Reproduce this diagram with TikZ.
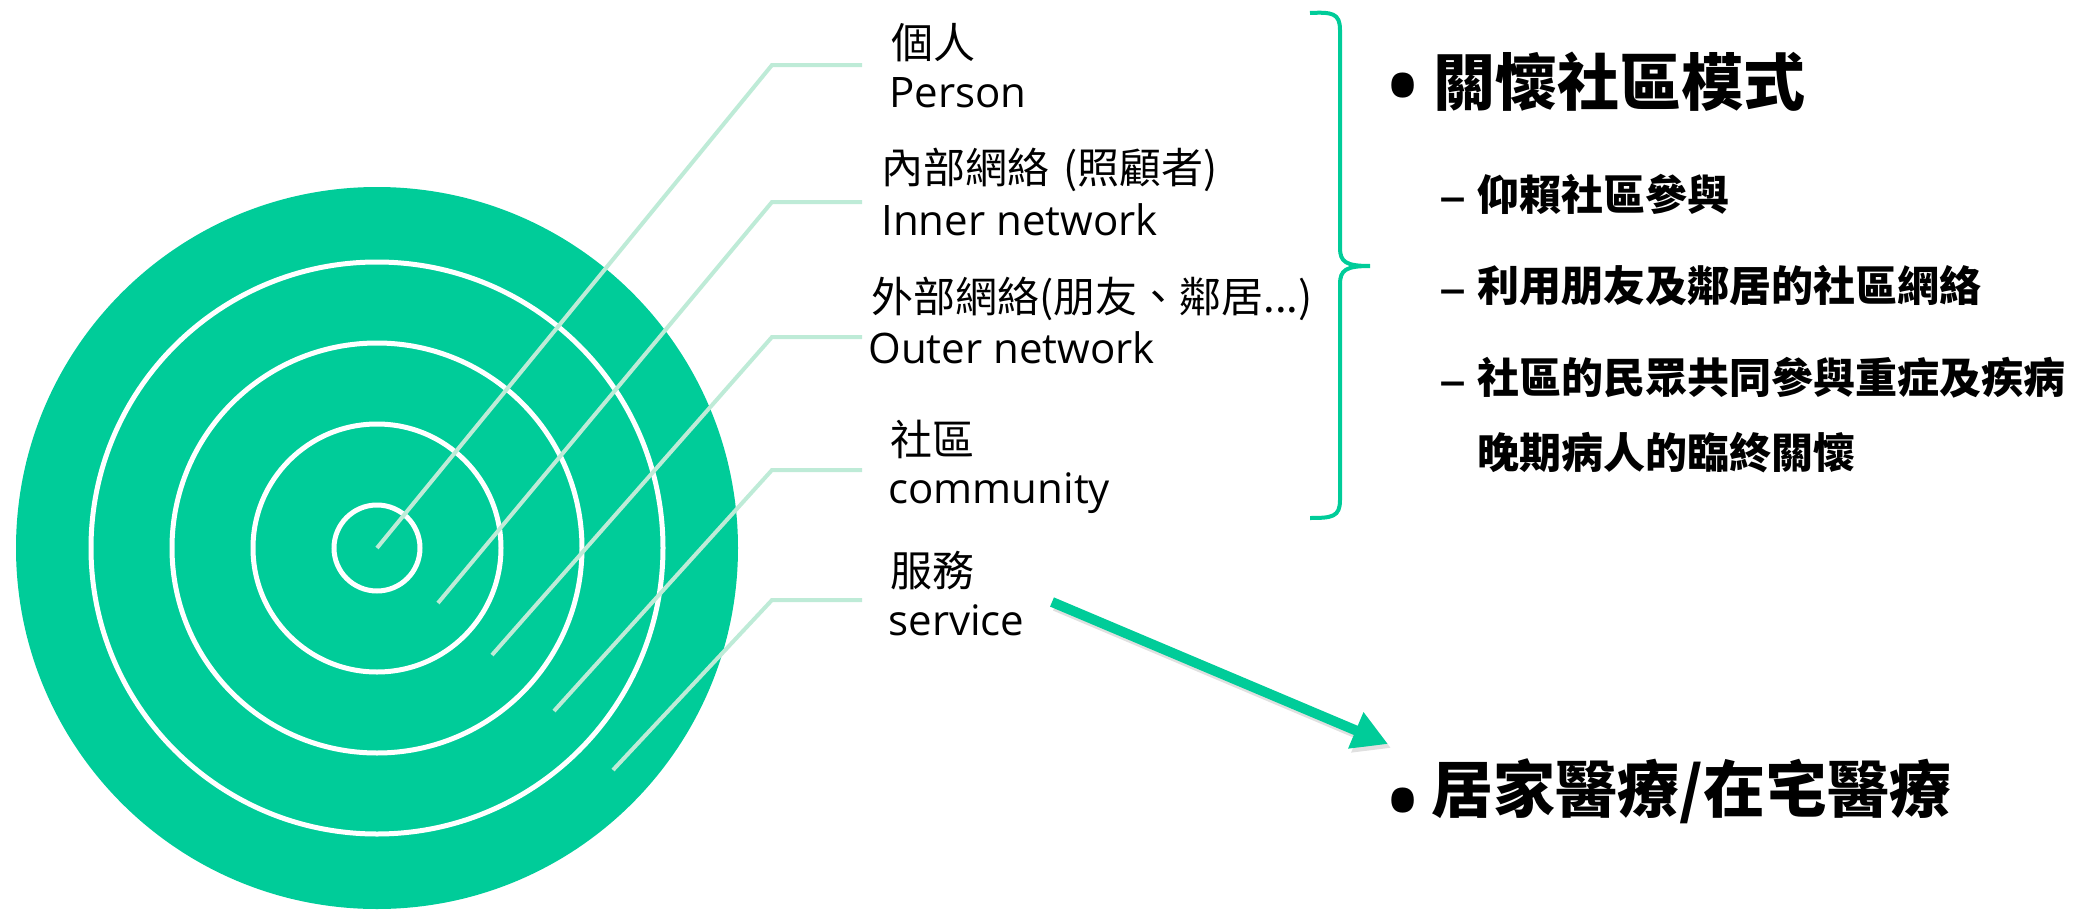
\documentclass[tikz,border=0pt]{standalone}
\usepackage{fontspec}
\setmainfont{Open Sans}
\newfontfamily\cjk{Noto Sans CJK TC}
\usetikzlibrary{arrows.meta}
\definecolor{sea}{RGB}{0,204,153}
\definecolor{mint}{RGB}{190,235,215}
\begin{document}
\begin{tikzpicture}[x=0.5pt,y=-0.5pt,
  lab/.style={anchor=west,inner sep=0pt,font=\cjk\fontsize{21}{25}\selectfont},
  en/.style={anchor=base west,inner sep=0pt,font=\fontsize{21}{25}\selectfont},
  leader/.style={draw=mint,line width=2pt},
  ring/.style={draw=white,line width=2.5pt},
  head/.style={anchor=west,inner sep=0pt,font=\cjk\bfseries\fontsize{31}{36}\selectfont},
  sub/.style={anchor=west,inner sep=0pt,font=\cjk\bfseries\fontsize{21}{25}\selectfont},
  bul/.style={anchor=center,inner sep=0pt,font=\fontsize{52}{56}\selectfont},
  dashmark/.style={anchor=base,inner sep=0pt,font=\fontsize{27}{31}\selectfont},
  bigarrow/.style={line width=5pt,-{Triangle[length=17.5pt,width=18.5pt]}},
]
\useasboundingbox (0,0) rectangle (2095,910);
% target
\fill[sea] (377,548) circle[radius=361];
\foreach \r in {43,124,205,286} \draw[ring] (377,548) circle[radius=\r];
% leader lines
\coordinate (p1) at (377,548); \coordinate (b1) at (772,65);  \coordinate (e1) at (862,65);
\coordinate (p2) at (438,603); \coordinate (b2) at (772,202); \coordinate (e2) at (862,202);
\coordinate (p3) at (492,655); \coordinate (b3) at (772,337); \coordinate (e3) at (862,337);
\coordinate (p4) at (554,711); \coordinate (b4) at (772,470); \coordinate (e4) at (862,470);
\coordinate (p5) at (613,770); \coordinate (b5) at (772,600); \coordinate (e5) at (862,600);
\foreach \i in {1,...,5} \draw[leader] (p\i) -- (b\i) -- (e\i);
% labels
\node[lab] (l1c) at (891,43) {個人};
\node[en]  (l1e) at (889,107) {Person};
\node[lab] (l2c) at (881,170) {內部網絡\hspace{7pt}(照顧者)};
\node[en]  (l2e) at (881,235) {Inner network};
\node[lab] (l3c) at (871,299) {外部網絡(朋友、鄰居...)};
\node[en]  (l3e) at (868,363) {Outer network};
\node[lab] (l4c) at (890,439) {社區};
\node[en]  (l4e) at (888,503) {community};
\node[lab] (l5c) at (890,571) {服務};
\node[en]  (l5e) at (888,635) {service};
% brace
\draw[sea,line width=2pt] (1310,13) .. controls (1332,12) and (1340,13) .. (1340,30)
  -- (1340,248) .. controls (1340,262) and (1346,266) .. (1370,266)
  .. controls (1346,266) and (1340,270) .. (1340,284)
  -- (1340,500) .. controls (1340,517) and (1332,518) .. (1310,518);
% right text
\node[bul] (bu1) at (1403,98) {•};
\node[head] (h1) at (1433,82) {關懷社區模式};
\node[dashmark] (d1) at (1453,214) {–};
\node[dashmark] (d2) at (1453,306) {–};
\node[dashmark] (d3) at (1453,398) {–};
\node[sub] (s1) at (1477,194) {仰賴社區參與};
\node[sub] (s2) at (1477,286) {利用朋友及鄰居的社區網絡};
\node[sub] (s3) at (1477,378) {社區的民眾共同參與重症及疾病};
\node[sub] (s4) at (1477,453) {晚期病人的臨終關懷};
\node[bul] (bu2) at (1403,813) {•};
\node[head] (h2) at (1431,791) {居家醫療/在宅醫療};
% arrow
\coordinate (as) at (1052,602);
\coordinate (ae) at (1388,744);
\draw[black,opacity=0.12,bigarrow] ([shift={(3,4)}]as) -- ([shift={(3,4)}]ae);
\draw[sea,bigarrow] (as) -- (ae);
\end{tikzpicture}
\end{document}
